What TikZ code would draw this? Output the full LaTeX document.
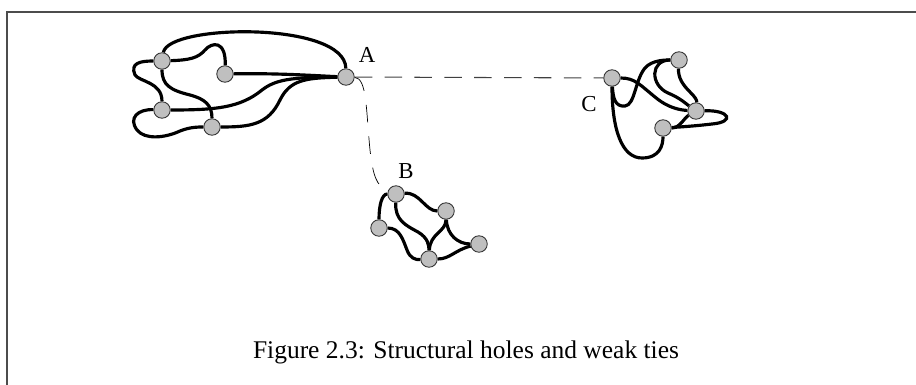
\documentclass[tikz,border=0pt]{standalone}
\usepackage{fontspec}
\setmainfont{Liberation Serif}
\usepackage{tikz}
\usetikzlibrary{positioning, calc, backgrounds}

\begin{document}
\begin{tikzpicture}[
    x=0.02cm, y=-0.02cm,
    vertex/.style={circle, draw=black!80, line width=0.5pt, fill=black!25, minimum size=0.33cm, inner sep=0pt},
    tie/.style={line width=1.8pt, black},
    weak/.style={black!75, line width=0.6pt, dash pattern=on 10pt off 7pt},
    thinweak/.style={black, line width=0.4pt, dash pattern=on 10pt off 8pt},
    label/.style={font=\fontsize{13}{15}\selectfont},
    frame/.style={black!70, line width=1pt}
]
\useasboundingbox (0,0) rectangle (916,385);

% Frame
\draw[frame] (6,12) -- (916,12);
\draw[frame] (7,12) -- (7,385);

% Group A
\node[vertex] (a1) at (162,61) {};
\node[vertex] (a2) at (225,74) {};
\node[vertex] (a3) at (346,77) {};
\node[vertex] (a4) at (162,110) {};
\node[vertex] (a5) at (212,127) {};

% Group B
\node[vertex] (b1) at (396,194) {};
\node[vertex] (b2) at (446,211) {};
\node[vertex] (b3) at (379,228) {};
\node[vertex] (b4) at (479,244) {};
\node[vertex] (b5) at (429,259) {};

% Group C
\node[vertex] (c1) at (612,78) {};
\node[vertex] (c2) at (679,60) {};
\node[vertex] (c3) at (696,111) {};
\node[vertex] (c4) at (663,128) {};

% Labels
\node[label] (lA) at (367,55) {A};
\node[label] (lB) at (406,171) {B};
\node[label] (lC) at (589,104) {C};

\begin{scope}[on background layer]
% Ties inside A
\draw[tie] (a1) .. controls (168,24) and (345,21) .. (a3);
\draw[tie] (a1) .. controls (190,60) and (198,58) .. (205,50) .. controls (212,42) and (226,40) .. (a2);
\draw[tie] (a1) .. controls (140,61) and (130,63) .. (135,75) .. controls (140,82) and (162,82) .. (a4);
\draw[tie] (a1) .. controls (162,85) and (170,90) .. (190,95) .. controls (205,99) and (212,105) .. (a5);
\draw[tie] (a4) .. controls (138,109) and (128,118) .. (137,130) .. controls (145,140) and (165,138) .. (180,131) .. controls (190,127) and (198,127) .. (a5);
\draw[tie] (a2) .. controls (280,73) and (320,76) .. (a3);
\draw[tie] (a4) .. controls (215,110) and (240,108) .. (262,90) .. controls (275,80) and (290,77) .. (a3);
\draw[tie] (a5) .. controls (250,127) and (268,125) .. (280,100) .. controls (290,80) and (305,78) .. (a3);

% Ties inside B
\draw[tie] (b1) .. controls (420,192) and (425,211) .. (b2);
\draw[tie] (b1) .. controls (382,194) and (379,205) .. (b3);
\draw[tie] (b1) .. controls (395,220) and (405,225) .. (418,232) .. controls (428,238) and (429,245) .. (b5);
\draw[tie] (b3) .. controls (400,228) and (403,240) .. (407,250) .. controls (410,258) and (415,260) .. (b5);
\draw[tie] (b2) .. controls (446,232) and (430,233) .. (b5);
\draw[tie] (b2) .. controls (447,235) and (458,244) .. (b4);
\draw[tie] (b5) .. controls (450,259) and (455,250) .. (b4);

% Ties inside C
\draw[tie] (c1) .. controls (612,130) and (622,158) .. (642,158) .. controls (660,158) and (663,145) .. (c4);
\draw[tie] (c1) .. controls (613,98) and (615,107) .. (625,106) .. controls (635,105) and (635,80) .. (645,68) .. controls (652,60) and (665,60) .. (c2);
\draw[tie] (c1) .. controls (635,78) and (640,85) .. (655,97) .. controls (668,108) and (680,110) .. (c3);
\draw[tie] (c2) .. controls (650,60) and (650,85) .. (668,93) .. controls (680,98) and (685,103) .. (c3);
\draw[tie] (c2) .. controls (678,78) and (683,85) .. (690,92) .. controls (695,97) and (697,100) .. (c3);
\draw[tie] (c3) .. controls (730,110) and (735,122) .. (712,124) .. controls (695,126) and (680,127) .. (c4);
\draw[tie] (c4) .. controls (680,128) and (684,118) .. (c3);

% Weak ties
\draw[weak] (a3) -- (c1);
\draw[thinweak] (a3) .. controls (367,78) and (366,110) .. (370,150) .. controls (373,175) and (376,186) .. (b1);
\end{scope}

% Caption
\node[font=\fontsize{14.5}{17}\selectfont] (cap) at (466,352) {Figure 2.3: Structural holes and weak ties};

\end{tikzpicture}
\end{document}
